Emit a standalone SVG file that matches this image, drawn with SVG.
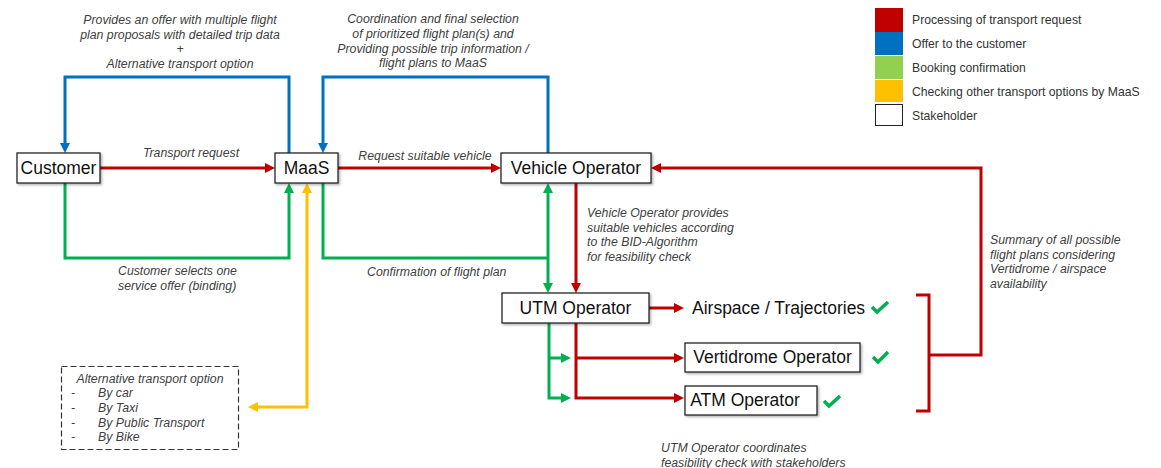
<svg xmlns="http://www.w3.org/2000/svg" width="1161" height="468" viewBox="0 0 1161 468">
<style>
.node rect{fill:#fff;stroke:#222;stroke-width:1.3;filter:url(#sh)}
.nt{font-family:"Liberation Sans",Arial,sans-serif;font-size:17.5px;fill:#111;text-anchor:middle}
.lb{font-family:"Liberation Sans",Arial,sans-serif;font-size:12.3px;font-style:italic;fill:#404040}
.lg{font-family:"Liberation Sans",Arial,sans-serif;font-size:12.2px;fill:#333}
.c{text-anchor:middle}
.ln{fill:none;stroke-width:3;stroke-linejoin:miter}
.r{stroke:#C00000}.b{stroke:#0070C0}.g{stroke:#00B050}.y{stroke:#FFC000}
.ck{fill:none;stroke:#00B050;stroke-width:3.5;stroke-linecap:butt}
</style>
<defs>
<filter id="sh" x="-10%" y="-20%" width="130%" height="160%"><feDropShadow dx="1.5" dy="1.5" stdDeviation="1" flood-color="#000" flood-opacity="0.3"/></filter>
<marker id="ar" viewBox="0 0 10 10" refX="2" refY="5" markerWidth="10" markerHeight="10" markerUnits="userSpaceOnUse" orient="auto-start-reverse"><path d="M0,0L10,5L0,10z" fill="#C00000"/></marker>
<marker id="ab" viewBox="0 0 10 10" refX="2" refY="5" markerWidth="10" markerHeight="10" markerUnits="userSpaceOnUse" orient="auto-start-reverse"><path d="M0,0L10,5L0,10z" fill="#0070C0"/></marker>
<marker id="ag" viewBox="0 0 10 10" refX="2" refY="5" markerWidth="10" markerHeight="10" markerUnits="userSpaceOnUse" orient="auto-start-reverse"><path d="M0,0L10,5L0,10z" fill="#00B050"/></marker>
<marker id="ay" viewBox="0 0 10 10" refX="2" refY="5" markerWidth="10" markerHeight="10" markerUnits="userSpaceOnUse" orient="auto-start-reverse"><path d="M0,0L10,5L0,10z" fill="#FFC000"/></marker>
</defs>
<rect width="1161" height="468" fill="#fff"/>

<g id="connectors">
<path class="ln r" d="M100,168H267" marker-end="url(#ar)"/>
<path class="ln r" d="M338,168H493" marker-end="url(#ar)"/>
<path class="ln b" d="M289,153V77H65V145" marker-end="url(#ab)"/>
<path class="ln b" d="M548,153V77H323V145" marker-end="url(#ab)"/>
<path class="ln g" d="M65,183V258H289V191" marker-end="url(#ag)"/>
<path class="ln g" d="M323,183V258H548"/>
<path class="ln g" d="M548,191V285" marker-start="url(#ag)" marker-end="url(#ag)"/>
<path class="ln y" d="M307,191V407H256" marker-start="url(#ay)" marker-end="url(#ay)"/>
<path class="ln r" d="M576,183V285" marker-end="url(#ar)"/>
<path class="ln r" d="M649,308H676" marker-end="url(#ar)"/>
<path class="ln r" d="M576,323V398H676" marker-end="url(#ar)"/>
<path class="ln r" d="M576,358H676" marker-end="url(#ar)"/>
<path class="ln g" d="M549,323V398H563" marker-end="url(#ag)"/>
<path class="ln g" d="M549,358H563" marker-end="url(#ag)"/>
<path class="ln r" d="M916,295H929V411H916"/>
<path class="ln r" d="M929,355H981V168H659" marker-end="url(#ar)"/>
</g>

<g id="labels">
<text class="lb c" x="180" y="24">Provides an offer with multiple flight</text>
<text class="lb c" x="180" y="39">plan proposals with detailed trip data</text>
<text class="lb c" x="180" y="53">+</text>
<text class="lb c" x="180" y="68">Alternative transport option</text>
<text class="lb c" x="433" y="23">Coordination and final selection</text>
<text class="lb c" x="433" y="38">of prioritized flight plan(s) and</text>
<text class="lb c" x="433" y="53">Providing possible trip information /</text>
<text class="lb c" x="433" y="67">flight plans to MaaS</text>
<text class="lb c" x="191" y="157">Transport request</text>
<text class="lb c" x="425" y="160">Request suitable vehicle</text>
<text class="lb" x="118" y="275">Customer selects one</text>
<text class="lb" x="118" y="290">service offer (binding)</text>
<text class="lb" x="367" y="276">Confirmation of flight plan</text>
<text class="lb" x="587" y="217">Vehicle Operator provides</text>
<text class="lb" x="587" y="232">suitable vehicles according</text>
<text class="lb" x="587" y="246">to the BID-Algorithm</text>
<text class="lb" x="587" y="261">for feasibility check</text>
<text class="lb" x="990" y="244">Summary of all possible</text>
<text class="lb" x="990" y="259">flight plans considering</text>
<text class="lb" x="990" y="273">Vertidrome / airspace</text>
<text class="lb" x="990" y="288">availability</text>
<text class="lb" x="661" y="452">UTM Operator coordinates</text>
<text class="lb" x="661" y="467">feasibility check with stakeholders</text>
</g>

<g id="customer" class="node"><rect x="17" y="153" width="83" height="30"/><text class="nt" x="58.5" y="174">Customer</text></g>
<g id="maas" class="node"><rect x="275" y="153" width="63" height="30"/><text class="nt" x="306.5" y="174">MaaS</text></g>
<g id="vehicle-operator" class="node"><rect x="501" y="153" width="150" height="30"/><text class="nt" x="576" y="174">Vehicle Operator</text></g>
<g id="utm-operator" class="node"><rect x="502" y="293" width="147" height="30"/><text class="nt" x="575.5" y="314">UTM Operator</text></g>
<g id="airspace"><text class="nt" x="692" y="314" style="text-anchor:start">Airspace / Trajectories</text><path class="ck" d="M872,307L877,312L888,302"/></g>
<g id="vertidrome-operator" class="node"><rect x="685" y="343" width="175" height="29"/><text class="nt" x="772.5" y="363">Vertidrome Operator</text><path class="ck" d="M873,357L878,362L888,352"/></g>
<g id="atm-operator" class="node"><rect x="685" y="386" width="132" height="29"/><text class="nt" x="745" y="406">ATM Operator</text><path class="ck" d="M824,401L829,406L840,396"/></g>

<g id="alternative">
<rect x="61.5" y="366.5" width="177" height="83" fill="#fff" stroke="#333" stroke-width="1.2" stroke-dasharray="6,3"/>
<text class="lb c" x="150" y="383">Alternative transport option</text>
<text class="lb" x="71" y="397">-</text><text class="lb" x="98" y="397">By car</text>
<text class="lb" x="71" y="412">-</text><text class="lb" x="98" y="412">By Taxi</text>
<text class="lb" x="71" y="427">-</text><text class="lb" x="98" y="427">By Public Transport</text>
<text class="lb" x="71" y="441">-</text><text class="lb" x="98" y="441">By Bike</text>
</g>

<g id="legend">
<rect x="875" y="8" width="28" height="24" fill="#C00000"/>
<rect x="875" y="32" width="28" height="23" fill="#0070C0"/>
<rect x="875" y="56" width="28" height="23" fill="#92D050"/>
<rect x="875" y="80" width="28" height="22" fill="#FFC000"/>
<rect x="875.5" y="104.5" width="27" height="21" fill="#fff" stroke="#222" stroke-width="1"/>
<text class="lg" x="912" y="24">Processing of transport request</text>
<text class="lg" x="912" y="48">Offer to the customer</text>
<text class="lg" x="912" y="72">Booking confirmation</text>
<text class="lg" x="912" y="96">Checking other transport options by MaaS</text>
<text class="lg" x="912" y="120">Stakeholder</text>
</g>
</svg>
